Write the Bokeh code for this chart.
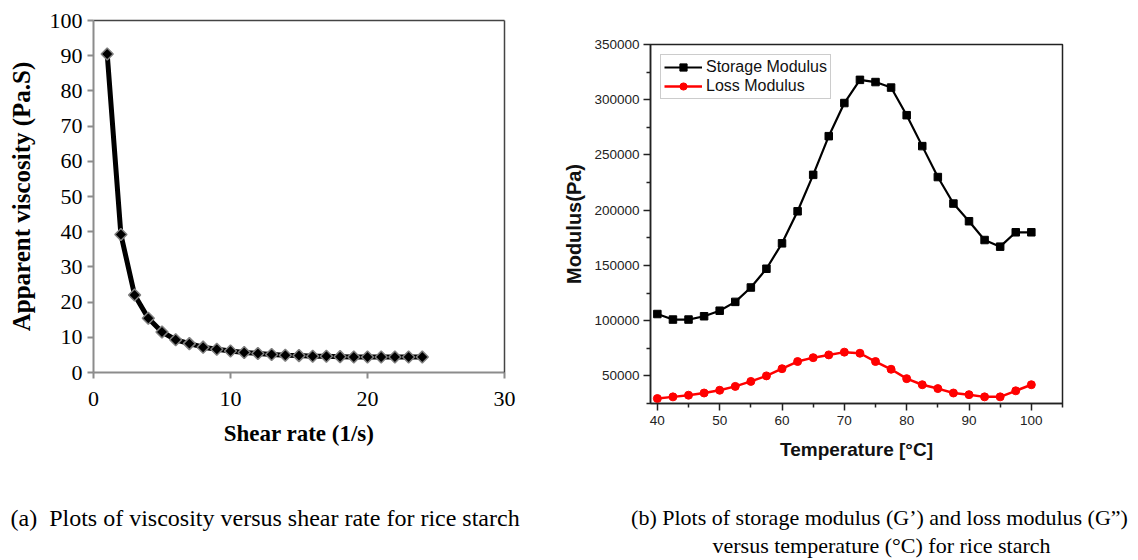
from bokeh.plotting import figure
from bokeh.layouts import row, column
from bokeh.models import Range1d, FixedTicker, LinearAxis, NumeralTickFormatter
from bokeh.core.properties import value
from bokeh.embed import file_html
from bokeh.resources import INLINE
import numpy as np

# ---------------- data ----------------
shear_rate = [1, 2, 3, 4, 5, 6, 7, 8, 9, 10, 11, 12, 13, 14, 15, 16, 17, 18, 19, 20, 21, 22, 23, 24]
viscosity = [90.5, 39.2, 22.0, 15.4, 11.5, 9.3, 8.2, 7.2, 6.6, 6.1, 5.7, 5.4, 5.1, 4.9, 4.8,
             4.6, 4.6, 4.5, 4.4, 4.4, 4.4, 4.4, 4.4, 4.4]

temperature = [40, 42.5, 45, 47.5, 50, 52.5, 55, 57.5, 60, 62.5, 65, 67.5, 70, 72.5, 75, 77.5,
               80, 82.5, 85, 87.5, 90, 92.5, 95, 97.5, 100]
storage_modulus = [106000, 101000, 101000, 104000, 109000, 117000, 130000, 147000, 170000, 199000,
                   232000, 267000, 297000, 318000, 316000, 311000, 286000, 258000, 230000, 206000,
                   190000, 173000, 167000, 180000, 180000]
loss_modulus = [29500, 31000, 32500, 34500, 37000, 40500, 45000, 50000, 56500, 63000, 66500, 69000,
                71500, 70500, 63000, 56000, 47500, 42000, 38500, 34500, 33000, 31000, 31000, 36500, 42000]

left_xticks = [0, 10, 20, 30]
left_yticks = [0, 10, 20, 30, 40, 50, 60, 70, 80, 90, 100]
right_xticks = [40, 50, 60, 70, 80, 90, 100]
right_xminor = [45, 55, 65, 75, 85, 95, 105]
right_yticks = [50000, 100000, 150000, 200000, 250000, 300000, 350000]
right_yminor = [25000, 75000, 125000, 175000, 225000, 275000, 325000]

caption_a = "(a)\u00a0\u00a0Plots of viscosity versus shear rate for rice starch"
caption_b1 = "(b) Plots of storage modulus (G\u2019) and loss modulus (G\u201d)"
caption_b2 = "versus temperature (\u00b0C) for rice starch"

SERIF = "Liberation Serif"
SANS = "Liberation Sans"

TOP_H = 478   # height of the two chart panels
CAP_H = 560 - TOP_H   # height of the caption strip

# ---------------- figure (a) ----------------
A_L, A_R, A_T = 93, 56, 20
A_W = 560
A_B = TOP_H - A_T - 352
p1 = figure(width=A_W, height=TOP_H, x_range=Range1d(0, 30), y_range=Range1d(0, 100),
            output_backend="svg", toolbar_location=None,
            min_border_left=A_L, min_border_right=A_R, min_border_top=A_T, min_border_bottom=A_B)
p1.frame_align = False
p1.outline_line_color = None
p1.xgrid.grid_line_color = None
p1.ygrid.grid_line_color = None
p1.background_fill_color = "white"
p1.border_fill_color = "white"

for ax, ticks in ((p1.xaxis[0], left_xticks), (p1.yaxis[0], left_yticks)):
    ax.ticker = FixedTicker(ticks=ticks, minor_ticks=[])
    ax.axis_line_color = "#8c8c8c"
    ax.axis_line_width = 2
    ax.major_tick_line_color = "#8c8c8c"
    ax.major_tick_line_width = 2
    ax.major_tick_out = 6
    ax.major_tick_in = 0
    ax.minor_tick_line_color = None
    ax.major_label_text_font = SERIF
    ax.major_label_text_font_size = "22px"
    ax.major_label_text_color = "black"
    ax.axis_label_text_font = SERIF
    ax.axis_label_text_font_style = "bold"
    ax.axis_label_text_color = "black"

p1.xaxis.axis_label = "Shear rate (1/s)"
p1.yaxis.axis_label = "Apparent viscosity (Pa.S)"
p1.xaxis.axis_label_text_font_size = "23px"
p1.yaxis.axis_label_text_font_size = "25px"
p1.xaxis.major_label_standoff = 13
p1.xaxis.axis_label_standoff = 12
p1.yaxis.major_label_standoff = 5
p1.yaxis.axis_label_standoff = 12

for loc in ("above", "right"):
    extra = LinearAxis(ticker=FixedTicker(ticks=[]), axis_line_color="#444444", axis_line_width=1.5,
                       major_tick_line_color=None, minor_tick_line_color=None,
                       major_label_text_font_size="0px")
    p1.add_layout(extra, loc)

p1.line(shear_rate, viscosity, line_color="black", line_width=5)
p1.scatter(shear_rate, viscosity, marker="square", angle=np.pi / 4, size=8.5,
           fill_color="black", line_color="#808080", line_width=1.5)

# ---------------- figure (b) ----------------
B_L, B_R, B_T = 86, 76, 44
B_W = 578
B_B = TOP_H - B_T - 359
p2 = figure(width=B_W, height=TOP_H, x_range=Range1d(38.9, 105.0), y_range=Range1d(25000, 350000),
            output_backend="svg", toolbar_location=None,
            min_border_left=B_L, min_border_right=B_R, min_border_top=B_T, min_border_bottom=B_B)
p2.frame_align = False
p2.outline_line_color = "#222222"
p2.outline_line_width = 1.5
p2.xgrid.grid_line_color = None
p2.ygrid.grid_line_color = None
p2.background_fill_color = "white"
p2.border_fill_color = "white"

p2.xaxis.ticker = FixedTicker(ticks=right_xticks, minor_ticks=right_xminor)
p2.yaxis.ticker = FixedTicker(ticks=right_yticks, minor_ticks=right_yminor)
p2.yaxis.formatter = NumeralTickFormatter(format="0")
for ax in (p2.xaxis[0], p2.yaxis[0]):
    ax.axis_line_color = "#222222"
    ax.axis_line_width = 1.5
    ax.major_tick_line_color = "#222222"
    ax.major_tick_line_width = 1.5
    ax.major_tick_out = 7
    ax.major_tick_in = 0
    ax.minor_tick_line_color = "#222222"
    ax.minor_tick_line_width = 1.5
    ax.minor_tick_out = 4
    ax.minor_tick_in = 0
    ax.major_label_text_font = SANS
    ax.major_label_text_font_size = "13.5px"
    ax.major_label_text_color = "#222222"
    ax.axis_label_text_font = SANS
    ax.axis_label_text_font_style = "bold"
    ax.axis_label_text_color = "#111111"

p2.xaxis.axis_label = "Temperature [\u00b0C]"
p2.yaxis.axis_label = "Modulus(Pa)"
p2.xaxis.axis_label_text_font_size = "19px"
p2.yaxis.axis_label_text_font_size = "20px"
p2.xaxis.major_label_standoff = 5
p2.xaxis.axis_label_standoff = 11
p2.yaxis.major_label_standoff = 4
p2.yaxis.axis_label_standoff = 6

p2.line(temperature, storage_modulus, line_color="black", line_width=2.2, legend_label="Storage Modulus")
p2.scatter(temperature, storage_modulus, marker="square", size=7.5, fill_color="black",
           line_color="black", legend_label="Storage Modulus")
p2.line(temperature, loss_modulus, line_color="#ff0000", line_width=2.5, legend_label="Loss Modulus")
p2.scatter(temperature, loss_modulus, marker="circle", size=8, fill_color="#ff0000",
           line_color="#ff0000", legend_label="Loss Modulus")

lg = p2.legend[0]
lg.location = "top_left"
lg.margin = 10
lg.padding = 3
lg.spacing = 1
lg.glyph_width = 38
lg.glyph_height = 18
lg.label_standoff = 4
lg.label_text_font = SANS
lg.label_text_font_size = "16px"
lg.label_text_color = "#111111"
lg.border_line_color = "#999999"
lg.border_line_width = 1
lg.background_fill_alpha = 1

# ---------------- caption strip ----------------
# a text-only panel whose coordinates equal page pixels (x: 0..1138, y: TOP_H..560 top-down)
p3 = figure(width=1138, height=CAP_H, x_range=Range1d(0, 1138), y_range=Range1d(TOP_H + CAP_H, TOP_H),
            output_backend="svg", toolbar_location=None, x_axis_type=None, y_axis_type=None,
            min_border=0)
p3.frame_align = False
p3.outline_line_color = None
p3.xgrid.grid_line_color = None
p3.ygrid.grid_line_color = None
p3.background_fill_color = "white"
p3.border_fill_color = "white"

p3.text(x=[10], y=[517], text=[caption_a], text_font=value(SERIF), text_font_size="24px",
        text_align="left", text_baseline="middle", text_color="black")
p3.text(x=[879, 881], y=[517, 545], text=[caption_b1, caption_b2], text_font=value(SERIF),
        text_font_size="22px", text_align="center", text_baseline="middle", text_color="black")

layout = column(row(p1, p2), p3)
open("out.html", "w").write(file_html(layout, INLINE))
